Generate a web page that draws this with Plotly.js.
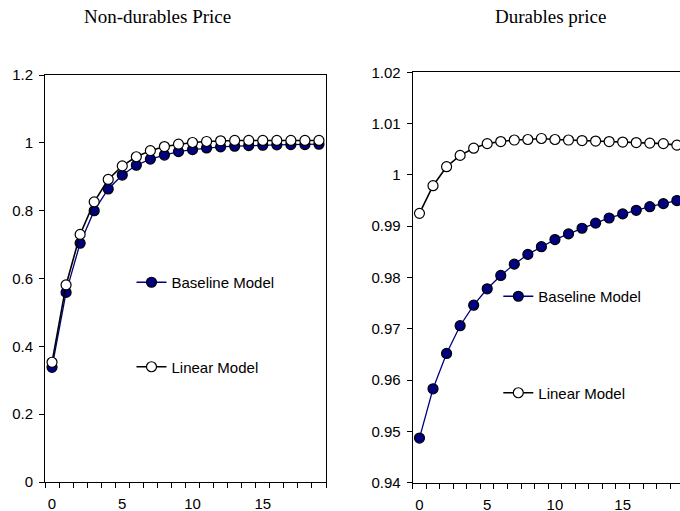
<!DOCTYPE html>
<html>
<head>
<meta charset="utf-8">
<script src="https://cdn.plot.ly/plotly-3.0.1.min.js"></script>
<style>html,body{margin:0;padding:0;background:#fff;}#chart{width:680px;height:511px;}</style>
</head>
<body>
<div id="chart"></div>
<script>
// Data
var periods = [0,1,2,3,4,5,6,7,8,9,10,11,12,13,14,15,16,17,18,19];

var nondurBaseline = [0.338,0.559,0.704,0.800,0.864,0.905,0.934,0.952,0.964,0.974,0.980,0.985,0.988,0.990,0.992,0.993,0.994,0.995,0.995,0.996];
var nondurLinear   = [0.353,0.581,0.730,0.826,0.892,0.932,0.959,0.977,0.989,0.996,1.001,1.004,1.006,1.007,1.007,1.007,1.007,1.007,1.007,1.007];

var durBaseline = [0.9487,0.9583,0.9652,0.9706,0.9746,0.9778,0.9804,0.9826,0.9845,0.9860,0.9874,0.9885,0.9896,0.9906,0.9916,0.9924,0.9931,0.9938,0.9944,0.9950];
var durLinear   = [0.9925,0.9979,1.0016,1.0038,1.0052,1.0061,1.0065,1.0068,1.0069,1.0071,1.0069,1.0068,1.0067,1.0066,1.0065,1.0064,1.0063,1.0062,1.0061,1.0058];

var xTickVals = [0,5,10,15];
var xTickText = ['0','5','10','15'];
var seriesNames = ['Baseline Model','Linear Model'];
var panelTitles = ['Non-durables Price','Durables price'];

var W = 680, H = 511;
var NAVY = '#000080';
var sans = 'Liberation Sans, Arial, sans-serif';
var serif = 'Liberation Serif, Times New Roman, serif';

var bounds = [];
for (var i = -0.5; i <= 19.5; i += 1) bounds.push(i);

function baseTrace(x, y, xa, ya, name, legend, filled) {
  return {
    x: x, y: y, xaxis: xa, yaxis: ya, name: name, legend: legend,
    legendgroup: name, type: 'scatter', mode: 'lines+markers',
    line: {color: filled ? NAVY : '#000', width: filled ? 1.3 : 1.6},
    marker: {size: 10, color: filled ? NAVY : '#fff', line: {color: '#000', width: 1.2}}
  };
}

var data = [
  baseTrace(periods, nondurBaseline, 'x', 'y', seriesNames[0], 'legend', true),
  baseTrace(periods, nondurLinear, 'x', 'y', seriesNames[1], 'legend', false),
  baseTrace(periods, durBaseline, 'x2', 'y2', seriesNames[0], 'legend2', true),
  baseTrace(periods, durLinear, 'x2', 'y2', seriesNames[1], 'legend2', false)
];

function xaxisDef(domain, range, anchor) {
  return {
    domain: domain, range: range, anchor: anchor, showgrid: false, zeroline: false,
    showline: true, linecolor: '#000', linewidth: 1, mirror: true,
    tickmode: 'array', tickvals: xTickVals, ticktext: xTickText,
    ticks: 'outside', ticklen: 5, tickcolor: 'rgba(0,0,0,0)',
    ticklabelstandoff: 3,
    tickfont: {family: sans, size: 15, color: '#000'},
    minor: {tickmode: 'array', tickvals: bounds, ticks: 'outside', ticklen: 5, tickcolor: '#000', tickwidth: 1, showgrid: false}
  };
}

function yaxisDef(domain, range, dtick, anchor, mirror) {
  return {
    domain: domain, range: range, anchor: anchor, showgrid: false, zeroline: false,
    showline: true, linecolor: '#000', linewidth: 1, mirror: mirror,
    tickmode: 'linear', tick0: range[0], dtick: dtick,
    ticks: 'outside', ticklen: 5, tickcolor: '#000',
    ticklabelstandoff: 3,
    tickfont: {family: sans, size: 15, color: '#000'}
  };
}

var layout = {
  width: W, height: H,
  margin: {l: 0, r: 0, t: 0, b: 0},
  paper_bgcolor: '#fff', plot_bgcolor: '#fff',
  showlegend: true,
  xaxis: xaxisDef([45/W, 326/W], [-0.5, 19.5], 'y'),
  yaxis: yaxisDef([(H-482)/H, (H-75)/H], [0, 1.2], 0.2, 'x', true),
  xaxis2: xaxisDef([412.7/W, 1], [-0.5, 19.23], 'y2'),
  yaxis2: yaxisDef([(H-482.7)/H, (H-72.3)/H], [0.94, 1.02], 0.01, 'x2', false),
  legend: {
    x: 131.5/W, xanchor: 'left', y: (H-266)/H, yanchor: 'top',
    bgcolor: 'rgba(0,0,0,0)', borderwidth: 0, tracegroupgap: 62,
    font: {family: sans, size: 15, color: '#000'}
  },
  legend2: {
    x: 498.3/W, xanchor: 'left', y: (H-280)/H, yanchor: 'top',
    bgcolor: 'rgba(0,0,0,0)', borderwidth: 0, tracegroupgap: 74,
    font: {family: sans, size: 15, color: '#000'}
  },
  annotations: [
    {text: panelTitles[0], xref: 'paper', yref: 'paper', x: 157.5/W, y: (H-16.5)/H,
     xanchor: 'center', yanchor: 'middle', showarrow: false,
     font: {family: serif, size: 19, color: '#000'}},
    {text: panelTitles[1], xref: 'paper', yref: 'paper', x: 550/W, y: (H-16.5)/H,
     xanchor: 'center', yanchor: 'middle', showarrow: false,
     font: {family: serif, size: 19, color: '#000'}}
  ]
};

Plotly.newPlot('chart', data, layout, {displayModeBar: false, staticPlot: true});
</script>
</body>
</html>
